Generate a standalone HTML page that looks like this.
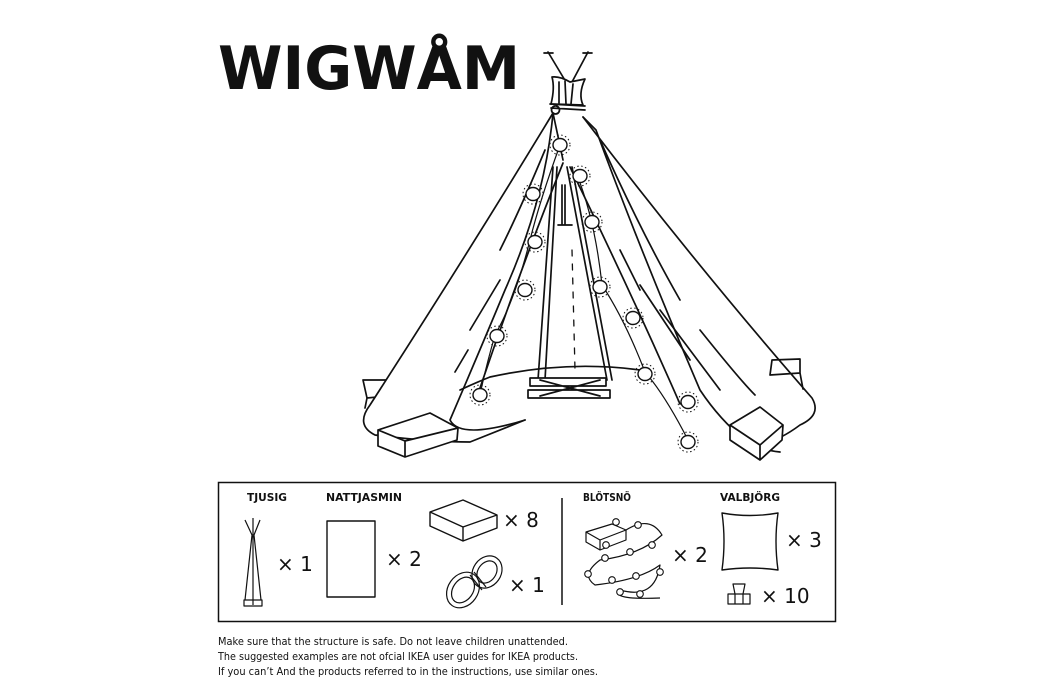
<!DOCTYPE html>
<html><head><meta charset="utf-8"><style>
html,body{margin:0;padding:0;background:#fff;}
svg{display:block;}
text{font-family:"DejaVu Sans","Liberation Sans",sans-serif;fill:#111;}
</style></head><body>
<svg width="1050" height="700" viewBox="0 0 1050 700" xmlns="http://www.w3.org/2000/svg">
<defs>
<g id="bulb">
<ellipse rx="7" ry="6.5" fill="#fff" stroke="#111" stroke-width="1.4"/>
<circle r="10" fill="none" stroke="#111" stroke-width="1" stroke-dasharray="1.5 2.5"/>
</g>
<g id="sb"><circle r="3.3" fill="#fff" stroke="#111" stroke-width="1.1"/></g>
</defs>

<text x="218" y="89" font-size="60" font-weight="bold" textLength="302" lengthAdjust="spacingAndGlyphs">WIGWÅM</text>

<g fill="none" stroke="#111" stroke-width="1.7" stroke-linejoin="round" stroke-linecap="round">
<path d="M548,52 L566,82 M588,52 L572,82 M544,53 L553,53 M583,53 L592,53"/>
<path d="M552,77 Q555,88 551,104 L583,105 Q578,94 585,79 L570,82 Q560,76 552,77 Z" fill="#fff"/>
<path d="M559,82 L559,103 M565,81 L566,104 M573,84 L571,104"/>
<path d="M550,104 L585,106 M551,108 L585,110 M555,106 a4,4 0 1,0 1,0"/>
<path d="M363,380 L395,380 L398,395 L367,398 Z M367,398 L365,408 M800,359 L772,360 L770,375 L800,373 Z M800,373 L803,389"/>
<path d="M553,113 Q470,250 370,405 Q355,425 375,435 Q430,442 470,442 Q500,430 525,420 M553,113 L563,160" fill="#fff"/>
<path d="M583,117 Q700,270 812,398 Q822,415 800,425 Q780,440 760,445" />
<path d="M583,117 L596,130 Q640,250 700,390 Q720,420 745,440 Q760,450 780,452"/>
<path d="M553,113 Q545,200 505,290 Q480,350 450,420 Q460,440 525,420"/>
<path d="M563,163 Q520,270 480,388 M570,167 Q630,290 680,404"/>
<path d="M490,377 Q567,360 640,370 M460,390 Q475,383 490,377"/>
<path d="M545,150 Q520,210 500,250 M500,280 L470,330 M468,350 L455,372 M600,140 Q640,230 680,300 M640,285 L690,360 M660,310 L720,390 M700,330 Q740,380 755,395 M620,250 L640,290"/>
<path d="M553,167 L538,380 M557,167 L545,380 M567,167 L607,380 M572,167 L612,380 M562,185 L562,225 M565,185 L565,225 M558,225 L572,225"/>
<path d="M530,378 L606,378 L606,386 L530,386 Z M528,390 L610,390 L610,398 L528,398 Z M540,380 L600,396 M540,396 L600,380" fill="#fff"/>
<path d="M572,250 L575,370" stroke-dasharray="6 8" stroke-width="1.3"/>
<path d="M378,430 L430,413 L458,428 L457,440 L405,457 L378,446 Z M378,430 L405,441 L458,428 M405,441 L405,457" fill="#fff"/>
<path d="M730,425 L760,407 L783,425 L782,440 L760,460 L730,440 Z M730,425 L760,445 L783,425 M760,445 L760,460" fill="#fff"/>
<path d="M560,145 Q540,200 530,240 Q515,300 495,335 Q485,370 480,395 M577,175 Q595,220 602,285 Q625,320 645,372 Q665,395 688,440" stroke-width="1.2"/>
</g>
<g>
<use href="#bulb" x="560" y="145"/><use href="#bulb" x="580" y="176"/><use href="#bulb" x="533" y="194"/>
<use href="#bulb" x="535" y="242"/><use href="#bulb" x="592" y="222"/><use href="#bulb" x="525" y="290"/>
<use href="#bulb" x="600" y="287"/><use href="#bulb" x="497" y="336"/><use href="#bulb" x="633" y="318"/>
<use href="#bulb" x="480" y="395"/><use href="#bulb" x="645" y="374"/><use href="#bulb" x="688" y="402"/>
<use href="#bulb" x="688" y="442"/>
</g>

<rect x="218.5" y="482.5" width="617" height="139" fill="none" stroke="#111" stroke-width="1.5"/>
<line x1="562" y1="498" x2="562" y2="605" stroke="#111" stroke-width="1.5"/>
<g font-size="11" font-weight="bold">
<text x="247" y="501" textLength="40" lengthAdjust="spacingAndGlyphs">TJUSIG</text>
<text x="326" y="501" textLength="76" lengthAdjust="spacingAndGlyphs">NATTJASMIN</text>
<text x="583" y="501" textLength="48" lengthAdjust="spacingAndGlyphs">BLÖTSNÖ</text>
<text x="720" y="501" textLength="60" lengthAdjust="spacingAndGlyphs">VALBJÖRG</text>
</g>
<g font-size="20">
<text x="277" y="571">× 1</text>
<text x="386" y="566">× 2</text>
<text x="503" y="527">× 8</text>
<text x="509" y="592">× 1</text>
<text x="672" y="562">× 2</text>
<text x="786" y="547">× 3</text>
<text x="761" y="603">× 10</text>
</g>
<g fill="none" stroke="#111" stroke-width="1.2" stroke-linejoin="round">
<path d="M253,518 L253,605 M245,520 L252,535 M260,520 L254,535 M252,535 L245,600 M254,535 L261,600 M244,600 L262,600 L262,606 L244,606 Z"/>
<rect x="327" y="521" width="48" height="76" stroke-width="1.4"/>
<path d="M430,512 L463,500 L497,515 L497,528 L463,541 L430,526 Z M430,512 L463,527 L497,515 M463,527 L463,541" stroke-width="1.4"/>
<ellipse cx="463" cy="590" rx="15" ry="19" transform="rotate(35 463 590)"/>
<ellipse cx="463" cy="590" rx="10" ry="14" transform="rotate(35 463 590)"/>
<ellipse cx="487" cy="572" rx="14" ry="17" transform="rotate(35 487 572)"/>
<ellipse cx="487" cy="572" rx="9" ry="12" transform="rotate(35 487 572)"/>
<path d="M470,575 L482,590 M474,572 L486,587"/>
<path d="M586,532 L612,524 L626,530 L626,540 L600,550 L586,542 Z M586,532 L600,540 L626,530 M600,540 L600,550"/>
<path d="M626,530 Q650,515 662,535 Q640,555 600,560 Q580,575 595,585 Q640,580 660,565 Q655,600 620,590 Q610,600 660,598"/>
<path d="M722,513 Q750,518 778,513 Q774,541 778,570 Q750,566 722,570 Q726,541 722,513 Z" stroke-width="1.4"/>
<path d="M728,594 L750,594 L750,604 L728,604 Z M735,594 L733,584 L745,584 L743,594 M735,594 L735,604 M743,594 L743,604"/>
</g>
<g>
<use href="#sb" x="616" y="522"/><use href="#sb" x="638" y="525"/><use href="#sb" x="652" y="545"/><use href="#sb" x="630" y="552"/>
<use href="#sb" x="605" y="558"/><use href="#sb" x="588" y="574"/><use href="#sb" x="612" y="580"/><use href="#sb" x="636" y="576"/>
<use href="#sb" x="660" y="572"/><use href="#sb" x="640" y="594"/><use href="#sb" x="620" y="592"/><use href="#sb" x="606" y="545"/>
</g>

<g font-size="11">
<text x="218" y="645" textLength="350" lengthAdjust="spacingAndGlyphs">Make sure that the structure is safe.  Do not leave children unattended.</text>
<text x="218" y="660" textLength="360" lengthAdjust="spacingAndGlyphs">The suggested examples are not ofcial IKEA user guides for IKEA products.</text>
<text x="218" y="675" textLength="380" lengthAdjust="spacingAndGlyphs">If you can’t And the products referred to in the instructions, use similar ones.</text>
</g>
</svg>
</body></html>
